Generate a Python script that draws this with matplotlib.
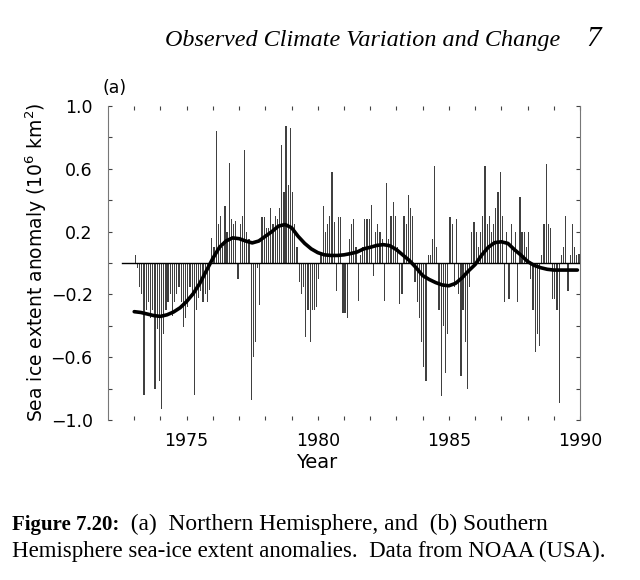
import numpy as np
import matplotlib
matplotlib.use("Agg")
import matplotlib.pyplot as plt

plt.rcParams['font.family'] = ['DejaVu Sans']
plt.rcParams['mathtext.fontset'] = 'dejavusans'

# ---- data: monthly anomalies Jan 1973 .. Dec 1989 (10^6 km^2) ----
start_year = 1973
anom_1973 = [0.05, -0.03, -0.15, -0.20, -0.84, -0.30, -0.25, -0.35, -0.30, -0.80, -0.42, -0.75]
anom_1974 = [-0.93, -0.45, -0.30, -0.25, -0.20, -0.34, -0.25, -0.20, -0.15, -0.25, -0.41, -0.35]
anom_1975 = [-0.28, -0.15, -0.20, -0.84, -0.30, -0.22, -0.18, -0.25, -0.20, -0.25, -0.17, 0.16]
anom_1976 = [0.10, 0.84, 0.25, 0.30, 0.10, 0.36, 0.20, 0.64, 0.28, 0.25, 0.27, -0.10]
anom_1977 = [0.25, 0.30, 0.72, 0.20, 0.15, -0.87, -0.60, -0.50, -0.03, -0.27, 0.29, 0.29]
anom_1978 = [0.22, 0.22, 0.35, 0.25, 0.30, 0.28, 0.35, 0.75, 0.45, 0.87, 0.50, 0.86]
anom_1979 = [0.45, 0.25, 0.10, -0.12, -0.20, -0.15, -0.47, -0.30, -0.50, -0.30, -0.30, -0.28]
anom_1980 = [-0.10, 0.05, 0.36, 0.20, 0.25, 0.30, 0.58, 0.26, -0.18, 0.29, 0.29, -0.32]
anom_1981 = [-0.32, -0.35, 0.15, 0.25, 0.28, 0.10, -0.24, 0.05, 0.10, 0.28, 0.28, 0.28]
anom_1982 = [0.37, -0.08, 0.20, 0.25, 0.20, 0.15, -0.24, 0.51, 0.15, 0.30, 0.39, 0.30]
anom_1983 = [0.10, -0.26, -0.20, 0.30, 0.25, 0.43, 0.35, 0.30, -0.12, -0.25, -0.35, -0.50]
anom_1984 = [-0.66, -0.75, 0.05, 0.05, 0.15, 0.62, 0.10, -0.30, -0.85, -0.40, -0.70, -0.45]
anom_1985 = [0.29, 0.25, -0.15, 0.28, -0.20, -0.72, -0.30, -0.50, -0.80, -0.15, 0.20, 0.26]
anom_1986 = [0.20, 0.10, 0.20, 0.30, 0.62, 0.25, 0.30, 0.20, 0.25, 0.35, 0.45, 0.58]
anom_1987 = [0.30, -0.25, 0.20, -0.23, 0.25, 0.10, 0.20, -0.25, 0.42, 0.20, 0.20, 0.10]
anom_1988 = [0.20, -0.10, -0.30, -0.57, -0.45, -0.53, 0.05, 0.25, 0.63, 0.25, 0.22, -0.23]
anom_1989 = [-0.23, -0.30, -0.89, 0.05, 0.10, 0.30, -0.18, 0.05, 0.25, 0.10, 0.05, 0.06]

# ---- smoothed curve ----
smooth_year = [1973.0, 1973.25, 1973.5, 1973.75, 1974.0, 1974.25, 1974.5, 1974.75,
               1975.0, 1975.25, 1975.5, 1975.75, 1976.0, 1976.25, 1976.5, 1976.75,
               1977.0, 1977.25, 1977.5, 1977.75, 1978.0, 1978.25, 1978.5, 1978.75,
               1979.0, 1979.25, 1979.5, 1979.75, 1980.0, 1980.25, 1980.5, 1980.75,
               1981.0, 1981.25, 1981.5, 1981.75, 1982.0, 1982.25, 1982.5, 1982.75,
               1983.0, 1983.25, 1983.5, 1983.75, 1984.0, 1984.25, 1984.5, 1984.75,
               1985.0, 1985.25, 1985.5, 1985.75, 1986.0, 1986.25, 1986.5, 1986.75,
               1987.0, 1987.25, 1987.5, 1987.75, 1988.0, 1988.25, 1988.5, 1988.75,
               1989.0, 1989.25, 1989.5, 1989.75, 1989.9]
smooth_val = [-0.31, -0.315, -0.325, -0.335, -0.34, -0.33, -0.312, -0.285,
              -0.245, -0.195, -0.13, -0.05, 0.03, 0.10, 0.14, 0.16,
              0.155, 0.14, 0.128, 0.14, 0.17, 0.20, 0.235, 0.245,
              0.225, 0.17, 0.125, 0.09, 0.066, 0.052, 0.048, 0.048,
              0.052, 0.06, 0.07, 0.09, 0.10, 0.112, 0.117, 0.11,
              0.085, 0.05, 0.015, -0.03, -0.08, -0.105, -0.125, -0.14,
              -0.145, -0.13, -0.095, -0.05, -0.01, 0.05, 0.10, 0.13,
              0.135, 0.125, 0.085, 0.05, 0.01, -0.015, -0.03, -0.04,
              -0.045, -0.045, -0.045, -0.045, -0.045]

yticks = [-1.0, -0.6, -0.2, 0.2, 0.6, 1.0]
ytick_labels = ['\u22121.0', '\u22120.6', '\u22120.2', '0.2', '0.6', '1.0']
xticks_labeled = [1975, 1980, 1985, 1990]

monthly = np.array(anom_1973 + anom_1974 + anom_1975 + anom_1976 + anom_1977 + anom_1978 +
                   anom_1979 + anom_1980 + anom_1981 + anom_1982 + anom_1983 + anom_1984 +
                   anom_1985 + anom_1986 + anom_1987 + anom_1988 + anom_1989)
t = start_year + (np.arange(len(monthly)) + 0.5) / 12.0

W, H = 640, 580
fig = plt.figure(figsize=(W / 100, H / 100), dpi=100)
ax = fig.add_axes([108 / W, 1 - 420 / H, 472 / W, 314 / H])

ax.bar(t, monthly, width=1 / 12 * 0.55, color='#404040', edgecolor='none', zorder=2)
ax.plot([1972.55, 1990], [0, 0], color='black', lw=1.0, zorder=3)
ax.plot(smooth_year, smooth_val, color='black', lw=2.6, solid_capstyle='round', zorder=4)

ax.set_xlim(1972, 1990)
ax.set_ylim(-1.0, 1.0)
for s in ['top', 'bottom']:
    ax.spines[s].set_visible(False)
for s in ['left', 'right']:
    ax.spines[s].set_color('#777777')
    ax.spines[s].set_linewidth(0.8)

ax.set_xticks(xticks_labeled)
ax.set_xticklabels([str(v) for v in xticks_labeled])
ax.set_xticks(list(range(1973, 1990)), minor=True)
ax.set_yticks(yticks)
ax.set_yticklabels(ytick_labels)
ax.set_yticks([-0.8, -0.4, 0.0, 0.4, 0.8], minor=True)
ax.tick_params(axis='both', which='both', direction='in', top=True, right=True,
               length=3, width=0.8, color='#444444', labelsize=12.5)
ax.tick_params(axis='x', pad=9)
ax.tick_params(axis='y', pad=11)

fig.text(317 / W, 1 - 462 / H, 'Year', ha='center', va='center', fontsize=14)
fig.text(36 / W, 1 - 262 / H, 'Sea ice extent anomaly (10$^6$ km$^2$)', rotation=90,
         ha='center', va='center', fontsize=13.5)
fig.text(103 / W, 1 - 88 / H, '(a)', ha='left', va='center', fontsize=12.5)

fig.text(165 / W, 1 - 46 / H, 'Observed Climate Variation and Change',
         family='Liberation Serif', style='italic', fontsize=17.4, ha='left', va='baseline')
fig.text(601 / W, 1 - 46 / H, '7', family='Liberation Serif', style='italic',
         fontsize=21, ha='right', va='baseline')

cap1 = fig.text(12 / W, 1 - 530 / H, 'Figure 7.20:', family='Liberation Serif',
                weight='bold', fontsize=15, ha='left', va='baseline')
ax.annotate('  (a)  Northern Hemisphere, and  (b) Southern', xy=(1, 0), xycoords=cap1,
            family='Liberation Serif', fontsize=16.8, ha='left', va='bottom')
fig.text(12 / W, 1 - 557 / H, 'Hemisphere sea-ice extent anomalies.  Data from NOAA (USA).',
         family='Liberation Serif', fontsize=16.5, ha='left', va='baseline')

fig.savefig('out.png', dpi=100)
